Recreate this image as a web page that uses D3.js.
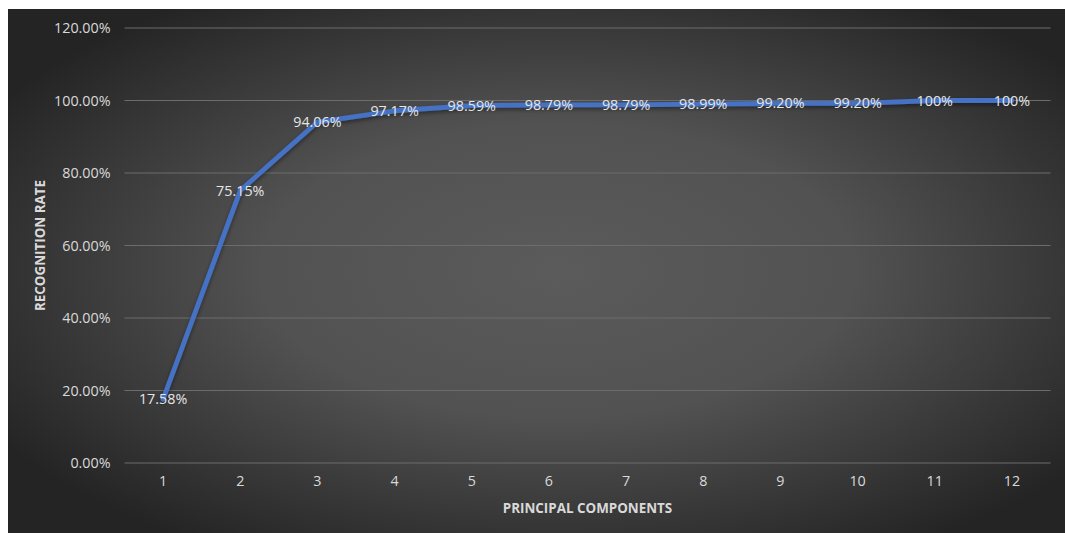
<!DOCTYPE html>
<html>
<head>
<meta charset="utf-8">
<script src="https://cdn.jsdelivr.net/npm/d3@7/dist/d3.min.js"></script>
<style>
  html, body { margin: 0; padding: 0; background: #ffffff; }
  svg { display: block; }
</style>
</head>
<body>
<div id="chart"></div>
<script>
// Recognition rate per number of principal components
const components = ["1", "2", "3", "4", "5", "6", "7", "8", "9", "10", "11", "12"];
const rates = [17.58, 75.15, 94.06, 97.17, 98.59, 98.79, 98.79, 98.99, 99.20, 99.20, 100, 100];
const rateLabels = ["17.58%", "75.15%", "94.06%", "97.17%", "98.59%", "98.79%", "98.79%", "98.99%", "99.20%", "99.20%", "100%", "100%"];
const yTicks = [0, 20, 40, 60, 80, 100, 120];

const W = 1065, H = 533;
const panel = { x: 8, y: 9, w: 1057, h: 524 };
const plot = { left: 124.5, right: 1050.5, top: 28, bottom: 463 };

const svg = d3.select("#chart").append("svg")
  .attr("width", W).attr("height", H);

const defs = svg.append("defs");
const bg = defs.append("radialGradient").attr("id", "bgGrad")
  .attr("cx", "52%").attr("cy", "50%").attr("r", "62%");
bg.append("stop").attr("offset", "0%").attr("stop-color", "#5b5b5b");
bg.append("stop").attr("offset", "45%").attr("stop-color", "#525252");
bg.append("stop").attr("offset", "100%").attr("stop-color", "#242424");

const shadow = defs.append("filter").attr("id", "lineShadow")
  .attr("x", "-5%").attr("y", "-5%").attr("width", "110%").attr("height", "115%");
shadow.append("feDropShadow").attr("dx", 0).attr("dy", 2).attr("stdDeviation", 2)
  .attr("flood-color", "#000000").attr("flood-opacity", 0.45);

svg.append("rect")
  .attr("x", panel.x).attr("y", panel.y)
  .attr("width", panel.w).attr("height", panel.h)
  .attr("fill", "url(#bgGrad)");

const x = d3.scaleBand().domain(components).range([plot.left, plot.right]).padding(0);
const y = d3.scaleLinear().domain([0, 120]).range([plot.bottom, plot.top]);
const cx = d => x(d) + x.bandwidth() / 2;

const font = "'Open Sans', 'Noto Sans', sans-serif";
const labelSize = 14.3;

// Horizontal gridlines
svg.append("g").selectAll("line").data(yTicks).join("line")
  .attr("x1", plot.left).attr("x2", plot.right)
  .attr("y1", d => y(d)).attr("y2", d => y(d))
  .attr("stroke", "#6c6c6c").attr("stroke-width", 1);

// Y axis labels
const yAxis = d3.axisLeft(y).tickValues(yTicks)
  .tickFormat(d => d.toFixed(2) + "%").tickSize(0).tickPadding(14);
const gy = svg.append("g").attr("transform", `translate(${plot.left},0)`).call(yAxis);
gy.select(".domain").remove();
gy.selectAll("text").attr("fill", "#d9d9d9").attr("font-family", font)
  .attr("font-size", labelSize);

// X axis labels
const xAxis = d3.axisBottom(x).tickSize(0).tickPadding(13);
const gx = svg.append("g").attr("transform", `translate(0,${plot.bottom})`).call(xAxis);
gx.select(".domain").remove();
gx.selectAll("text").attr("fill", "#d9d9d9").attr("font-family", font).attr("font-size", labelSize);

// Axis titles
svg.append("text")
  .attr("x", (plot.left + plot.right) / 2).attr("y", 513)
  .attr("text-anchor", "middle")
  .attr("font-family", font).attr("font-weight", "bold").attr("font-size", 13.4)
  .attr("fill", "#d9d9d9")
  .text("PRINCIPAL COMPONENTS");

svg.append("text")
  .attr("transform", `translate(45,${(plot.top + plot.bottom) / 2}) rotate(-90)`)
  .attr("text-anchor", "middle")
  .attr("font-family", font).attr("font-weight", "bold").attr("font-size", 13.4)
  .attr("fill", "#d9d9d9")
  .text("RECOGNITION RATE");

// Line
const line = d3.line()
  .x((d, i) => cx(components[i]))
  .y(d => y(d));

svg.append("path")
  .datum(rates)
  .attr("d", line)
  .attr("fill", "none")
  .attr("stroke", "#4472c4")
  .attr("stroke-width", 4.8)
  .attr("stroke-linejoin", "round")
  .attr("stroke-linecap", "round")
  .attr("filter", "url(#lineShadow)");

// Data labels centred on each point
svg.append("g").selectAll("text").data(rates).join("text")
  .attr("x", (d, i) => cx(components[i]))
  .attr("y", d => y(d))
  .attr("dy", "0.35em")
  .attr("text-anchor", "middle")
  .attr("font-family", font).attr("font-size", labelSize)
  .attr("fill", "#e6e6e6")
  .text((d, i) => rateLabels[i]);
</script>
</body>
</html>
